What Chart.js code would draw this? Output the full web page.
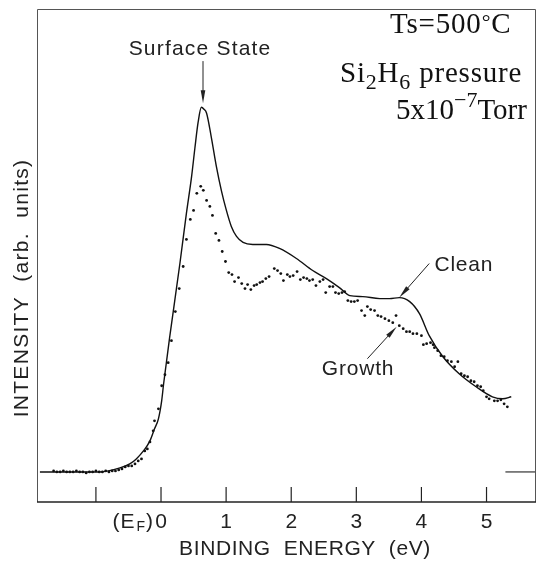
<!DOCTYPE html>
<html>
<head>
<meta charset="utf-8">
<script src="https://cdn.jsdelivr.net/npm/chart.js@4.4.1/dist/chart.umd.min.js"></script>
<style>
  html, body { margin: 0; padding: 0; background: #fff; }
  #wrap { width: 540px; height: 561px; }
</style>
</head>
<body>
<div id="wrap"><canvas id="spectrum" width="540" height="561"></canvas></div>
<script>
// clean surface spectrum: binding energy (eV) vs intensity (arb. units)
const cleanEnergy = [-1.86, -0.94, -0.63, -0.48, -0.38, -0.27, -0.17, -0.10, -0.04, 0.01,
  0.04, 0.08, 0.13, 0.29, 0.39, 0.47, 0.52, 0.57, 0.62, 0.66, 0.70, 0.77, 0.85, 0.93,
  1.00, 1.08, 1.16, 1.26, 1.41, 1.62, 1.82, 2.08, 2.33, 2.54, 2.74, 2.90, 3.10, 3.36,
  3.51, 3.66, 3.82, 3.97, 4.12, 4.33, 4.58, 4.84, 5.09, 5.25, 5.38];
const cleanIntensity = [0, 0, 4, 8, 13, 21, 31, 43, 53, 71,
  88, 108, 133, 208, 258, 295, 323, 349, 364, 362, 358, 335, 305, 280,
  262, 245, 235, 229, 227, 227, 223, 213, 201, 193, 184, 176, 175, 173,
  173, 174, 170, 158, 136, 115, 98, 85, 75, 73, 75];

// spectrum taken during Si2H6 growth (point by point)
const growthEnergy = [-1.65, -1.60, -1.55, -1.50, -1.45, -1.40, -1.35, -1.30, -1.25, -1.20,
  -1.15, -1.10, -1.05, -1.00, -0.95, -0.90, -0.85, -0.80, -0.75, -0.70, -0.65, -0.60,
  -0.55, -0.50, -0.45, -0.40, -0.35, -0.30, -0.25, -0.21, -0.17, -0.12, -0.10, -0.04,
  0.01, 0.06, 0.11, 0.16, 0.22, 0.28, 0.34, 0.39, 0.45, 0.50, 0.55, 0.61, 0.65, 0.70,
  0.75, 0.79, 0.84, 0.89, 0.94, 0.99, 1.04, 1.09, 1.13, 1.19, 1.24, 1.29, 1.33, 1.38,
  1.43, 1.47, 1.52, 1.56, 1.61, 1.66, 1.74, 1.79, 1.84, 1.88, 1.94, 1.98, 2.03, 2.09,
  2.14, 2.19, 2.24, 2.28, 2.33, 2.38, 2.44, 2.49, 2.53, 2.59, 2.64, 2.68, 2.73, 2.78,
  2.82, 2.87, 2.92, 2.97, 3.02, 3.08, 3.13, 3.17, 3.22, 3.28, 3.33, 3.38, 3.44, 3.50,
  3.56, 3.61, 3.66, 3.72, 3.77, 3.82, 3.87, 3.93, 4.00, 4.03, 4.08, 4.14, 4.18, 4.20,
  4.25, 4.30, 4.35, 4.40, 4.46, 4.51, 4.56, 4.61, 4.66, 4.71, 4.76, 4.81, 4.86, 4.91,
  4.95, 5.00, 5.04, 5.12, 5.17, 5.22, 5.27, 5.32];
const growthIntensity = [1, 0, 0, 1, 0, 0, 0, 1, 0, 0,
  -1, 0, 0, 1, 0, 0, 1, 0, 1, 1, 2, 3,
  5, 6, 6, 8, 11, 13, 21, 23, 30, 41, 51, 63,
  86, 97, 109, 131, 160, 183, 205, 232, 252, 261, 278, 285, 281, 271,
  265, 256, 238, 231, 220, 210, 199, 197, 190, 194, 188, 183, 187, 182,
  186, 187, 189, 190, 193, 195, 203, 201, 198, 191, 197, 195, 196, 200,
  192, 194, 193, 191, 192, 186, 190, 192, 179, 185, 185, 179, 178, 179,
  180, 171, 170, 170, 171, 161, 156, 165, 162, 161, 156, 155, 153, 151,
  149, 156, 146, 143, 140, 140, 138, 138, 136, 127, 128, 129, 127, 124,
  121, 116, 115, 111, 110, 105, 110, 98, 96, 95, 91, 90, 86, 85,
  81, 75, 73, 71, 71, 72, 68, 65];

// short background level mark at the high energy end
const levelEnergy = [5.29, 5.76];
const levelIntensity = [0, 0];

const tickValues = [-1, 0, 1, 2, 3, 4, 5];
const tickLabels = ['', '0', '1', '2', '3', '4', '5'];

const xRange = [-1.905, 5.76];
const yRange = [-30, 462];

const toPoints = (xs, ys) => xs.map((x, i) => ({ x: x, y: ys[i] }));

const sans = '"Liberation Sans", Arial, sans-serif';
const serif = '"Liberation Serif", "Times New Roman", serif';
const ink = '#222';

function arrow(ctx, x0, y0, x1, y1, len, half) {
  const a = Math.atan2(y1 - y0, x1 - x0);
  ctx.beginPath();
  ctx.moveTo(x0, y0);
  ctx.lineTo(x1 - Math.cos(a) * len * 0.6, y1 - Math.sin(a) * len * 0.6);
  ctx.stroke();
  ctx.beginPath();
  ctx.moveTo(x1, y1);
  ctx.lineTo(x1 - Math.cos(a) * len - Math.sin(a) * half, y1 - Math.sin(a) * len + Math.cos(a) * half);
  ctx.lineTo(x1 - Math.cos(a) * len + Math.sin(a) * half, y1 - Math.sin(a) * len - Math.cos(a) * half);
  ctx.closePath();
  ctx.fill();
}

// draws a run of [text, size, dy] pieces from left to right
function runs(ctx, x, y, pieces) {
  let cx = x;
  pieces.forEach(([t, size, dy]) => {
    ctx.font = size + 'px ' + serif;
    ctx.fillText(t, cx, y + dy);
    cx += ctx.measureText(t).width;
  });
}

const framePlugin = {
  id: 'frame',
  afterDraw(chart) {
    const { ctx, chartArea: a, scales: { x, y } } = chart;
    ctx.save();
    ctx.strokeStyle = ink;
    ctx.fillStyle = ink;

    // plot box
    ctx.lineWidth = 1;
    ctx.strokeStyle = '#555';
    ctx.beginPath();
    ctx.moveTo(a.left + 0.5, a.bottom);
    ctx.lineTo(a.left + 0.5, a.top + 0.5);
    ctx.lineTo(a.right - 0.5, a.top + 0.5);
    ctx.lineTo(a.right - 0.5, a.bottom);
    ctx.stroke();
    ctx.strokeStyle = ink;
    ctx.lineWidth = 1.5;
    ctx.beginPath();
    ctx.moveTo(a.left, a.bottom);
    ctx.lineTo(a.right, a.bottom);
    ctx.stroke();

    // inward ticks and their labels
    ctx.lineWidth = 1.2;
    ctx.font = '21px ' + sans;
    ctx.textAlign = 'center';
    ctx.textBaseline = 'middle';
    tickValues.forEach((v, i) => {
      const px = x.getPixelForValue(v);
      ctx.beginPath();
      ctx.moveTo(px, a.bottom);
      ctx.lineTo(px, a.bottom - 15);
      ctx.stroke();
      if (tickLabels[i]) ctx.fillText(tickLabels[i], px, a.bottom + 20);
    });
    // Fermi level marker left of the zero label
    ctx.letterSpacing = '1px';
    const zx = x.getPixelForValue(0) - 7;
    ctx.textAlign = 'right';
    ctx.fillText(')', zx, a.bottom + 20);
    let w = ctx.measureText(')').width;
    ctx.font = '14px ' + sans;
    ctx.fillText('F', zx - w, a.bottom + 25);
    w += ctx.measureText('F').width + 1;
    ctx.font = '21px ' + sans;
    ctx.fillText('(E', zx - w, a.bottom + 20);

    // axis titles
    ctx.textAlign = 'center';
    ctx.letterSpacing = '0.6px';
    ctx.fillText('BINDING  ENERGY  (eV)', 305, a.bottom + 47);
    ctx.save();
    ctx.letterSpacing = '1.3px';
    ctx.translate(22, 288);
    ctx.rotate(-Math.PI / 2);
    ctx.fillText('INTENSITY  (arb.  units)', 0, 0);
    ctx.restore();

    // annotations anchored to the data scales
    ctx.lineWidth = 1;
    ctx.letterSpacing = '1.2px';
    ctx.textAlign = 'center';
    ctx.fillText('Surface State', x.getPixelForValue(0.60), y.getPixelForValue(422));
    arrow(ctx, x.getPixelForValue(0.645), y.getPixelForValue(410),
      x.getPixelForValue(0.645), y.getPixelForValue(368), 13, 2.3);

    ctx.letterSpacing = '0.8px';
    ctx.textAlign = 'left';
    ctx.fillText('Clean', x.getPixelForValue(4.20), y.getPixelForValue(206));
    arrow(ctx, x.getPixelForValue(4.12), y.getPixelForValue(208),
      x.getPixelForValue(3.66), y.getPixelForValue(174), 13, 2.3);

    ctx.fillText('Growth', x.getPixelForValue(2.47), y.getPixelForValue(103));
    arrow(ctx, x.getPixelForValue(3.17), y.getPixelForValue(113),
      x.getPixelForValue(3.62), y.getPixelForValue(145), 13, 2.3);

    // growth conditions, top right
    ctx.fillStyle = '#111';
    ctx.textBaseline = 'alphabetic';
    ctx.textAlign = 'left';
    ctx.letterSpacing = '0.8px';
    runs(ctx, 390, 33, [['Ts=500', 29, 0], ['\u00b0', 22, -4], ['C', 29, 0]]);
    runs(ctx, 340, 82, [['Si', 29, 0], ['2', 22, 7], ['H', 29, 0], ['6', 22, 7], [' pressure', 29, 0]]);
    ctx.letterSpacing = '0px';
    runs(ctx, 396, 119, [['5x10', 29, 0], ['\u22127', 22, -12], ['Torr', 29, 0]]);

    ctx.restore();
  }
};

new Chart(document.getElementById('spectrum'), {
  type: 'scatter',
  data: {
    datasets: [
      {
        label: 'Clean',
        data: toPoints(cleanEnergy, cleanIntensity),
        showLine: true,
        cubicInterpolationMode: 'monotone',
        borderColor: '#111',
        borderWidth: 1.4,
        pointRadius: 0,
      },
      {
        label: 'Growth',
        data: toPoints(growthEnergy, growthIntensity),
        showLine: false,
        backgroundColor: '#111',
        borderWidth: 0,
        pointRadius: 1.4,
      },
      {
        label: 'level',
        data: toPoints(levelEnergy, levelIntensity),
        showLine: true,
        borderColor: '#333',
        borderWidth: 1.2,
        pointRadius: 0,
      },
    ],
  },
  options: {
    responsive: false,
    animation: false,
    devicePixelRatio: 1,
    layout: { padding: { left: 37, top: 9, right: 3, bottom: 59 } },
    scales: {
      x: { type: 'linear', min: xRange[0], max: xRange[1], display: false },
      y: { type: 'linear', min: yRange[0], max: yRange[1], display: false },
    },
    plugins: {
      legend: { display: false },
      tooltip: { enabled: false },
    },
  },
  plugins: [framePlugin],
});
</script>
</body>
</html>
